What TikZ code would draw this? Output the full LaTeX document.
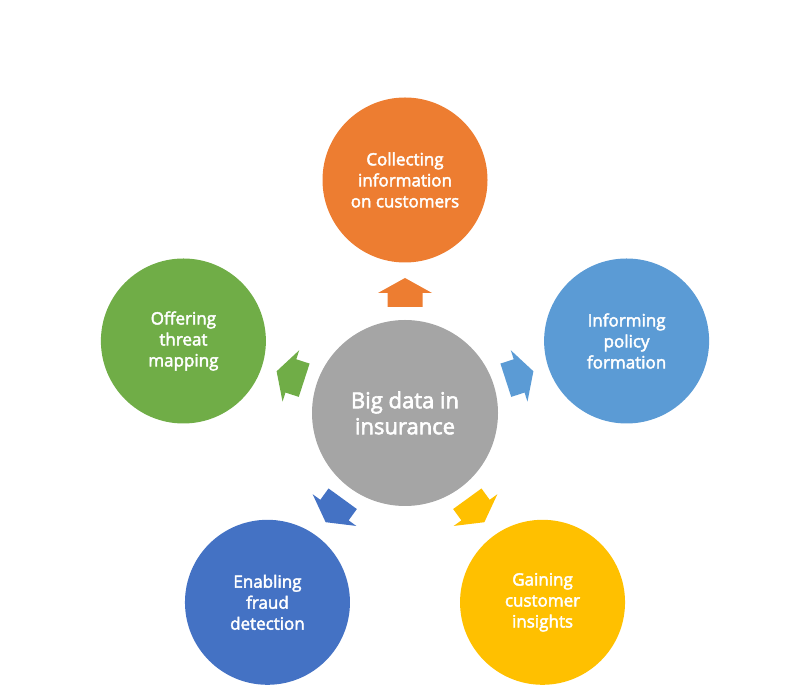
\documentclass[tikz,border=0pt]{standalone}
\usepackage{fontspec}
\setmainfont{Open Sans}
\newfontfamily\semib{Open Sans}[FakeBold=2.6]
\usetikzlibrary{calc}
\definecolor{cOrange}{HTML}{ED7D31}
\definecolor{cLBlue}{HTML}{5B9BD5}
\definecolor{cYellow}{HTML}{FFC000}
\definecolor{cDBlue}{HTML}{4472C4}
\definecolor{cGreen}{HTML}{70AD47}
\definecolor{cGrey}{HTML}{A5A5A5}
\begin{document}
\begin{tikzpicture}[x=1pt,y=1pt,
  hub/.style={circle, fill=cGrey, minimum size=186pt, inner sep=0pt, text=white,
    font=\semib\fontsize{22}{26}\selectfont, align=center},
  leaf/.style={circle, minimum size=165pt, inner sep=0pt, text=white,
    font=\semib\fontsize{17}{21}\selectfont, align=center},
  blockarrow/.pic={\path[pic actions] (0,-17.5) -- (14,-17.5) -- (14,-27) -- (29,0)
     -- (14,27) -- (14,17.5) -- (0,17.5) -- cycle;}
]
\useasboundingbox (0,0) rectangle (808,698);
\node[hub] (c) at (405,285) {Big data in\\insurance};
\node[leaf, fill=cOrange] (n1) at ($(c)+(90:233)$) {Collecting\\information\\on customers};
\node[leaf, fill=cLBlue] (n2) at ($(c)+(18:233)$) {Informing\\policy\\formation};
\node[leaf, fill=cYellow] (n3) at ($(c)+(-54:234)$) {Gaining\\customer\\insights};
\node[leaf, fill=cDBlue] (n4) at ($(c)+(-126:234)$) {Enabling\\fraud\\detection};
\node[leaf, fill=cGreen] (n5) at ($(c)+(162:233)$) {Offering\\threat\\mapping};
\coordinate (a1) at ($(c)+(90:106)$);
\coordinate (a2) at ($(c)+(18:106)$);
\coordinate (a3) at ($(c)+(-54:106)$);
\coordinate (a4) at ($(c)+(-126:106)$);
\coordinate (a5) at ($(c)+(162:106)$);
\pic[fill=cOrange, rotate=90] at (a1) {blockarrow};
\pic[fill=cLBlue, rotate=18] at (a2) {blockarrow};
\pic[fill=cYellow, rotate=-54] at (a3) {blockarrow};
\pic[fill=cDBlue, rotate=-126] at (a4) {blockarrow};
\pic[fill=cGreen, rotate=162] at (a5) {blockarrow};
\end{tikzpicture}
\end{document}
